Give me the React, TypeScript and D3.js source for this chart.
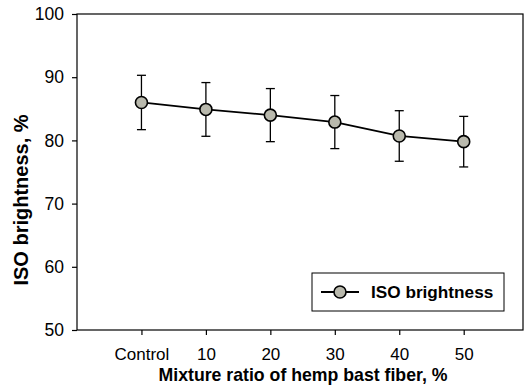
import { useEffect, useRef } from 'react';
import * as d3 from 'd3';

// data
const categories = ['Control', '10', '20', '30', '40', '50'];
const ratios = [0, 10, 20, 30, 40, 50];
const brightness = [86.0, 84.9, 84.0, 82.9, 80.7, 79.8];
const errors = [4.3, 4.25, 4.2, 4.2, 4.0, 4.0];
const yTicks = [50, 60, 70, 80, 90, 100];

export default function App() {
    const svgRef = useRef<SVGSVGElement>(null);

    useEffect(() => {
        const width = 528;
        const height = 388;
        const margin = { top: 14, right: 5, bottom: 58, left: 77 };
        const innerWidth = width - margin.left - margin.right;
        const innerHeight = height - margin.top - margin.bottom;
        const font = '"Liberation Sans", Arial, Helvetica, sans-serif';

        d3.select(svgRef.current).selectAll('*').remove();

        const svg = d3.select(svgRef.current)
            .attr('width', width)
            .attr('height', height)
            .append('g')
            .attr('transform', `translate(${margin.left},${margin.top})`);

        const x = d3.scaleLinear().domain([-10, 59.2]).range([0, innerWidth]);
        const y = d3.scaleLinear().domain([50, 100]).range([innerHeight, 0]);

        // frame
        svg.append('rect')
            .attr('width', innerWidth)
            .attr('height', innerHeight)
            .attr('fill', 'none')
            .attr('stroke', '#000')
            .attr('stroke-width', 1.2);

        // Y axis
        const yAxis = svg.append('g')
            .call(d3.axisLeft(y).tickValues(yTicks).tickSize(5).tickPadding(8));
        yAxis.select('.domain').remove();
        yAxis.selectAll('line').attr('stroke-width', 1.2);
        yAxis.selectAll('text')
            .style('font-family', font)
            .style('font-size', '17.5px')
            .attr('fill', '#000');

        // X axis
        const xAxis = svg.append('g')
            .attr('transform', `translate(0,${innerHeight})`)
            .call(d3.axisBottom(x)
                .tickValues(ratios)
                .tickFormat((d, i) => categories[i])
                .tickSize(5)
                .tickPadding(13));
        xAxis.select('.domain').remove();
        xAxis.selectAll('line').attr('stroke-width', 1.2);
        xAxis.selectAll('text')
            .style('font-family', font)
            .style('font-size', '17px')
            .attr('fill', '#000');

        // axis titles
        svg.append('text')
            .attr('x', innerWidth / 2 + 3)
            .attr('y', innerHeight + 51)
            .attr('text-anchor', 'middle')
            .style('font-family', font)
            .style('font-size', '17.7px')
            .style('font-weight', 'bold')
            .text('Mixture ratio of hemp bast fiber, %');

        svg.append('text')
            .attr('transform', 'rotate(-90)')
            .attr('x', -(200 - margin.top))
            .attr('y', 28 - margin.left)
            .attr('text-anchor', 'middle')
            .style('font-family', font)
            .style('font-size', '20px')
            .style('font-weight', 'bold')
            .text('ISO brightness, %');

        const data = ratios.map((r, i) => ({ r, v: brightness[i], e: errors[i] }));

        // error bars
        const eb = svg.selectAll('.err')
            .data(data)
            .enter()
            .append('g')
            .attr('class', 'err')
            .attr('stroke', '#000')
            .attr('stroke-width', 1.3);
        eb.append('line')
            .attr('x1', d => x(d.r)).attr('x2', d => x(d.r))
            .attr('y1', d => y(d.v + d.e)).attr('y2', d => y(d.v - d.e));
        eb.append('line')
            .attr('x1', d => x(d.r) - 4.5).attr('x2', d => x(d.r) + 4.5)
            .attr('y1', d => y(d.v + d.e)).attr('y2', d => y(d.v + d.e));
        eb.append('line')
            .attr('x1', d => x(d.r) - 4.5).attr('x2', d => x(d.r) + 4.5)
            .attr('y1', d => y(d.v - d.e)).attr('y2', d => y(d.v - d.e));

        // line
        const line = d3.line<{ r: number; v: number }>()
            .x(d => x(d.r))
            .y(d => y(d.v));
        svg.append('path')
            .datum(data)
            .attr('fill', 'none')
            .attr('stroke', '#000')
            .attr('stroke-width', 1.8)
            .attr('d', line);

        // markers
        svg.selectAll('.dot')
            .data(data)
            .enter()
            .append('circle')
            .attr('class', 'dot')
            .attr('cx', d => x(d.r))
            .attr('cy', d => y(d.v))
            .attr('r', 6)
            .attr('fill', '#b9b9ad')
            .attr('stroke', '#000')
            .attr('stroke-width', 1.6);

        // legend
        const legend = svg.append('g')
            .attr('transform', `translate(${312 - margin.left},${273 - margin.top})`);
        legend.append('rect')
            .attr('width', 192)
            .attr('height', 38)
            .attr('fill', '#fff')
            .attr('stroke', '#000')
            .attr('stroke-width', 1);
        legend.append('line')
            .attr('x1', 9).attr('x2', 47)
            .attr('y1', 19).attr('y2', 19)
            .attr('stroke', '#000')
            .attr('stroke-width', 1.8);
        legend.append('circle')
            .attr('cx', 28).attr('cy', 19).attr('r', 6)
            .attr('fill', '#b9b9ad')
            .attr('stroke', '#000')
            .attr('stroke-width', 1.6);
        legend.append('text')
            .attr('x', 59)
            .attr('y', 25)
            .style('font-family', font)
            .style('font-size', '17.2px')
            .style('font-weight', 'bold')
            .text('ISO brightness');
    }, []);

    return (
        <div style={{ position: 'absolute', left: 0, top: 0, width: 528, height: 388 }}>
            <svg ref={svgRef}></svg>
        </div>
    );
}
